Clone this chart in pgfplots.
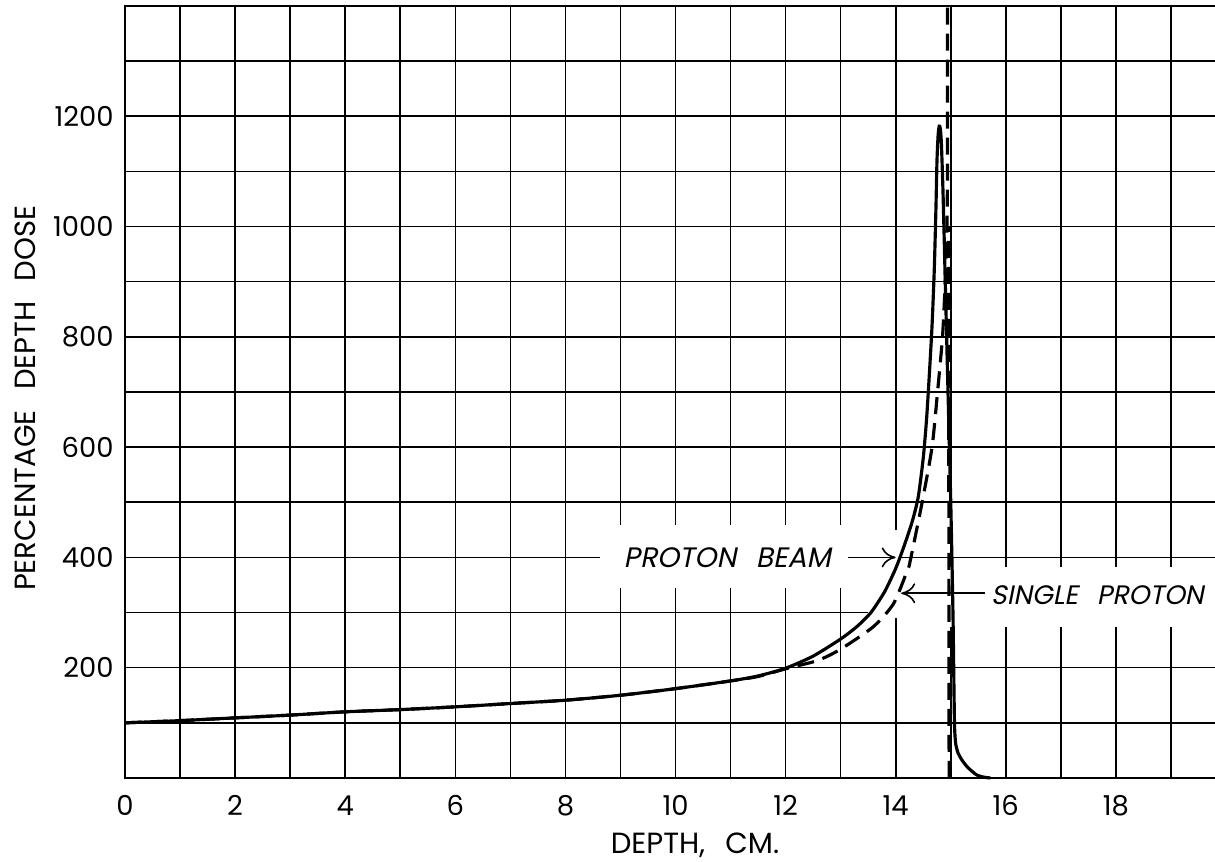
\documentclass[border=0pt]{standalone}
\usepackage{fontspec}
\setmainfont{Poppins}
\newfontfamily\slantfont{Poppins}[FakeSlant=0.2]
\usepackage{pgfplots}
\pgfplotsset{compat=1.18}
\usetikzlibrary{arrows.meta}

% proton beam (measured curve)
\pgfplotstableread{
x y
0 100
1 104
2 109
3 114
4 120
5 124
6 129
7 135
8 141
9 150
10 162
11 176
11.5 185
12 199
12.5 221
13 252
13.3 275
13.55 300
13.8 338
14.0 380
14.15 420
14.3 465
14.41 510
14.5 580
14.56 650
14.61 730
14.66 820
14.70 920
14.73 1030
14.75 1120
14.77 1165
14.79 1182
14.81 1178
14.83 1150
14.86 1060
14.90 900
14.95 700
15.00 500
15.04 300
15.06 150
15.07 90
15.09 62
15.13 46
15.2 33
15.3 20
15.4 11
15.48 5
15.6 1.5
15.72 0
}\beam

% single proton
\pgfplotstableread{
x y
0 100
1 104
2 109
3 114
4 120
5 124
6 129
7 135
8 141
9 150
10 162
11 176
11.5 184
12 198
12.58 213
12.99 233
13.59 274
13.96 316
14.21 376
14.26 392
14.48 500
14.66 600
14.76 700
14.85 800
14.90 900
14.93 1000
14.94 1100
14.94 1400
}\single

\begin{document}
\begin{tikzpicture}
\begin{axis}[
  name=ax,
  scale only axis,
  width=10.9cm, height=7.72cm,
  xmin=0, xmax=19.8, ymin=0, ymax=1400,
  xtick={0,2,...,18}, minor xtick={1,3,...,19},
  ytick={200,400,...,1200}, minor ytick={100,300,...,1300},
  grid=both,
  major grid style={black, line width=0.45pt},
  minor grid style={black, line width=0.45pt},
  major tick length=0pt, minor tick length=0pt,
  axis line style={draw=none},
  tick label style={font=\fontsize{7.8}{9}\selectfont},
  /pgf/number format/assume math mode=true,
  /pgf/number format/1000 sep={},
  xticklabel style={yshift=-0.5mm},
  yticklabel style={xshift=0.1mm},
  clip=false,
]
% frame: left, bottom and top
\draw[line width=0.8pt] (rel axis cs:1,1) -- (rel axis cs:0,1) -- (rel axis cs:0,0) -- (rel axis cs:1,0);

% gaps in the grid behind the labels
\fill[white] (axis cs:8.63,344) rectangle (axis cs:13.14,458);
\fill[white] (axis cs:14.1,273) rectangle (axis cs:19.8,382);
\fill[white] (axis cs:13.5,290) rectangle (axis cs:14.1,382);
\fill[white] (axis cs:13.9,382) rectangle (axis cs:14.1,449);

\addplot[black, line width=0.9pt, smooth, tension=0.4] table {\beam};
\addplot[black, line width=0.9pt, smooth, tension=0.4, dash pattern=on 1.7mm off 0.9mm] table {\single};
\addplot[black, line width=0.9pt, dash pattern=on 1.7mm off 0.9mm] coordinates {(14.97,0) (14.96,1000)};

\node[font=\slantfont\fontsize{8}{9}\selectfont] at (axis cs:10.94,400) {PROTON\hspace{0.7em}BEAM};
\draw[line width=0.45pt, -{To[length=1.4mm,width=2mm]}] (axis cs:13.14,400) -- (axis cs:14.0,400);
\node[anchor=west, inner sep=0pt, font=\slantfont\fontsize{7.6}{8}\selectfont] at (axis cs:15.72,332) {SINGLE\hspace{0.7em}PROTON};
\draw[line width=0.45pt, -{To[length=1.4mm,width=2mm]}] (axis cs:15.62,335) -- (axis cs:14.10,335);

\node[font=\fontsize{8.3}{9}\selectfont] at ([yshift=-6.7mm]axis description cs:0.523,0) {DEPTH,\hspace{0.7em}CM.};
\node[rotate=90, font=\fontsize{8.3}{9}\selectfont] at ([xshift=-10mm]axis description cs:0,0.492) {PERCENTAGE\hspace{0.7em}DEPTH\hspace{0.7em}DOSE};
\end{axis}
\pgfresetboundingbox
\path[use as bounding box] ([xshift=-12.5mm,yshift=-8.4mm]ax.south west) rectangle ([yshift=0.6mm]ax.north east);
\end{tikzpicture}
\end{document}
